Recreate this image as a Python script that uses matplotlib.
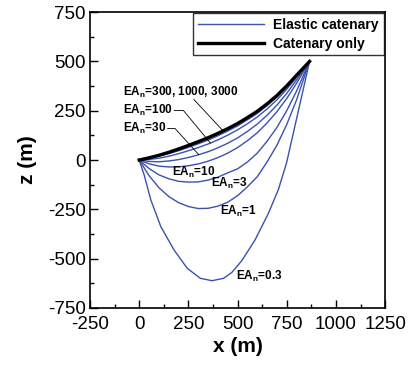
import numpy as np
import matplotlib.pyplot as plt
from matplotlib.ticker import MultipleLocator

plt.rcParams['font.family'] = ['Liberation Sans', 'DejaVu Sans']
plt.rcParams['axes.unicode_minus'] = False

# abscisas comunes (m)
x_grid = [0, 50, 100, 150, 200, 250, 300, 350, 400, 450, 500, 550, 600, 650, 700, 750, 800, 866]

# catenaria sin elasticidad
z_cat = [0, 11, 24, 39, 56, 74, 93, 113, 135, 159, 185, 215, 247, 285, 327, 376, 430, 500]

# catenarias elasticas, por valor de EA_n
z_3000 = [0, 10, 23, 38, 55, 73, 92, 112, 134, 158, 184, 214, 246, 284, 326, 375, 430, 500]
z_1000 = [0, 10, 22, 37, 53, 71, 89, 109, 131, 155, 181, 211, 243, 282, 324, 374, 429, 500]
z_300 = [0, 8, 19, 32, 47, 64, 82, 101, 123, 147, 173, 204, 236, 276, 319, 370, 426, 500]
z_100 = [0, 3, 9, 19, 32, 47, 63, 81, 102, 126, 153, 184, 218, 259, 305, 359, 419, 500]
z_30 = [0, -7, -9, -5, 2, 13, 26, 42, 62, 85, 112, 145, 182, 227, 278, 338, 406, 500]
z_10 = [0, -19, -31, -35, -35, -29, -20, -6, 12, 35, 63, 98, 138, 188, 245, 312, 389, 500]
z_3 = [0, -43, -75, -95, -108, -112, -111, -102, -87, -65, -45, -10, 35, 95, 165, 250, 350, 500]
z_1 = [0, -79, -140, -185, -216, -236, -246, -245, -234, -214, -181, -136, -85, -10, 75, 180, 305, 500]

x_03 = [0, 25, 59, 110, 177, 244, 311, 370, 429, 471, 522, 589, 657, 707, 749, 797, 866]
z_03 = [0, -75, -202, -338, -456, -549, -600, -612, -600, -570, -510, -405, -270, -151, -15, 196, 500]

azul = '#3a52ad'

fig = plt.figure(figsize=(4.11, 3.67), dpi=100)
ax = fig.add_axes([0.219, 0.161, 0.718, 0.806])

elasticas = [z_3000, z_1000, z_300, z_100, z_30, z_10, z_3, z_1]
for i, z in enumerate(elasticas):
    ax.plot(x_grid, z, color=azul, linewidth=1.0,
            label='Elastic catenary' if i == 0 else None)
ax.plot(x_03, z_03, color=azul, linewidth=1.0)
ax.plot(x_grid, z_cat, color='k', linewidth=2.4, label='Catenary only')

# etiquetas de las curvas
fs = 8.5
ax.text(-84, 344, r'EA$_\mathregular{n}$=300, 1000, 3000', fontsize=fs, fontweight='bold', va='center')
ax.text(-84, 251, r'EA$_\mathregular{n}$=100', fontsize=fs, fontweight='bold', va='center')
ax.text(-84, 160, r'EA$_\mathregular{n}$=30', fontsize=fs, fontweight='bold', va='center')
ax.text(168, -63, r'EA$_\mathregular{n}$=10', fontsize=fs, fontweight='bold', va='center')
ax.text(367, -120, r'EA$_\mathregular{n}$=3', fontsize=fs, fontweight='bold', va='center')
ax.text(413, -262, r'EA$_\mathregular{n}$=1', fontsize=fs, fontweight='bold', va='center')
ax.text(491, -592, r'EA$_\mathregular{n}$=0.3', fontsize=fs, fontweight='bold', va='center')

# lineas guia
ax.plot([278, 429], [307, 145], color='k', linewidth=0.6)
ax.plot([178, 225, 362], [251, 251, 86], color='k', linewidth=0.6)
ax.plot([145, 182, 303], [160, 160, 27], color='k', linewidth=0.6)

ax.set_xlim(-250, 1250)
ax.set_ylim(-750, 750)
ax.xaxis.set_major_locator(MultipleLocator(250))
ax.yaxis.set_major_locator(MultipleLocator(250))
ax.xaxis.set_minor_locator(MultipleLocator(125))
ax.yaxis.set_minor_locator(MultipleLocator(125))
ax.tick_params(which='both', direction='in', labelsize=13.5, width=1)
ax.tick_params(which='major', length=6)
ax.tick_params(which='minor', length=3)
ax.tick_params(axis='x', pad=6)
ax.tick_params(axis='y', pad=3)
for s in ax.spines.values():
    s.set_linewidth(1.2)

ax.set_xlabel('x (m)', fontsize=15, fontweight='bold', labelpad=3)
ax.set_ylabel('z (m)', fontsize=15, fontweight='bold', labelpad=8)

leg = ax.legend(loc='upper right', fontsize=10, handlelength=4.7, frameon=True,
                fancybox=False, edgecolor='k', borderaxespad=0.1,
                borderpad=0.35, labelspacing=0.3, handletextpad=0.7)
leg.get_frame().set_linewidth(1.0)
for t in leg.get_texts():
    t.set_fontweight('bold')

plt.savefig('out.png', dpi=100)
